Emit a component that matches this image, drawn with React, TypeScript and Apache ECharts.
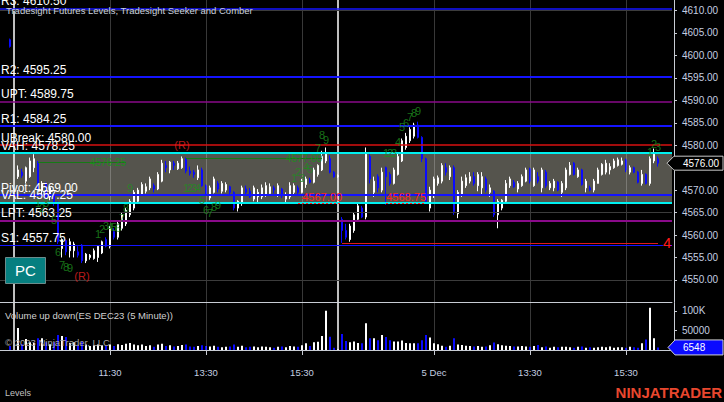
import React, { useEffect, useRef } from 'react';
import * as echarts from 'echarts';

const FONT = '"Liberation Sans", Arial, sans-serif';

// ---------- categories (5-minute bars) ----------
function hhmm(m: number): string {
  return `${String(Math.floor(m / 60)).padStart(2, '0')}:${String(m % 60).padStart(2, '0')}`;
}
function buildCategories(): string[] {
  const cats: string[] = [];
  for (const m of [965, 970, 975]) cats.push(`1 Dec ${hhmm(m)}`);
  for (let m = 570; m <= 975; m += 5) cats.push(`4 Dec ${hhmm(m)}`);
  for (let m = 575; m <= 985; m += 5) cats.push(`5 Dec ${hhmm(m)}`);
  return cats;
}
const categories = buildCategories();

// ---------- OHLC [open, close, low, high] ----------
const dec1LastBar = [[4603.5, 4602.0, 4601.75, 4603.75]];
const dec4Bars = [
  [4573, 4574.5, 4572.5, 4575.5], [4574, 4573.25, 4572.75, 4574.75], [4572, 4575, 4571.5, 4575.25],
  [4573, 4576.5, 4572.75, 4577.25], [4575, 4577, 4574, 4578], [4576.25, 4570, 4569.5, 4576.5],
  [4570, 4571.5, 4569, 4572], [4571.5, 4568.5, 4568, 4571.75], [4568.5, 4570.5, 4567.75, 4571],
  [4569, 4567, 4566.5, 4569.5], [4567, 4558.5, 4558, 4567.5], [4557, 4559, 4555, 4559.25],
  [4558.75, 4556.25, 4555.5, 4559], [4556.5, 4558.5, 4555, 4559.25], [4556.5, 4558, 4555, 4558.5],
  [4556.25, 4555.5, 4555, 4557.5], [4557.75, 4554.25, 4553.75, 4558], [4554.25, 4555.75, 4553.75, 4556],
  [4555, 4555.5, 4554.5, 4555.75], [4554.75, 4556.5, 4554.5, 4557], [4555, 4557.5, 4554, 4557.75],
  [4556, 4558.5, 4555.75, 4558.75], [4559, 4557.5, 4557.25, 4559.5], [4557.5, 4561.5, 4557, 4562],
  [4560.75, 4559.5, 4559, 4561.5], [4559.5, 4562.5, 4559, 4563], [4561.5, 4564.5, 4561, 4565],
  [4562.5, 4565.5, 4562, 4566], [4564.5, 4567.5, 4564, 4568], [4566, 4569.5, 4565.5, 4570],
  [4567.5, 4570, 4567.25, 4570.5], [4569, 4571.25, 4568.75, 4571.75], [4569.75, 4570.75, 4569.25, 4571.5],
  [4570.5, 4572.5, 4570, 4573], [4571, 4570.25, 4569.5, 4571.5], [4570.25, 4573.5, 4570, 4574],
  [4572, 4576, 4571.75, 4576.75], [4575.5, 4575, 4574, 4576.5], [4574.5, 4576.25, 4573.75, 4576.5],
  [4576, 4575.5, 4574.5, 4576.5], [4574.75, 4576, 4574.5, 4576.5], [4575, 4577, 4574.75, 4577.5],
  [4577, 4574.25, 4573.75, 4577.25], [4574.25, 4573.75, 4573.25, 4575.25], [4574, 4573.5, 4572.75, 4574.5],
  [4572.75, 4574.5, 4572.25, 4575.5], [4574.5, 4571, 4570.75, 4575], [4571, 4569, 4568.75, 4571.25],
  [4568.25, 4570.5, 4567.75, 4571], [4569.5, 4572.5, 4569.25, 4573], [4571.5, 4570.25, 4569.5, 4572],
  [4569.75, 4571.5, 4569.25, 4572], [4570, 4571.25, 4569.5, 4571.75], [4570.75, 4569.5, 4568.75, 4571],
  [4569.5, 4566, 4565.5, 4569.75], [4566, 4567.5, 4565.25, 4567.75], [4567, 4570.5, 4566.5, 4571],
  [4570.25, 4569.5, 4569, 4571], [4569.75, 4568.5, 4568.25, 4570.5], [4568, 4570.5, 4567.5, 4571],
  [4568.5, 4569.5, 4567, 4570.25], [4568.5, 4570.5, 4568, 4571.25], [4569, 4571, 4568.5, 4571.75],
  [4569.25, 4570.75, 4568.75, 4571.5], [4570.5, 4570, 4569.25, 4571], [4569, 4571, 4568.5, 4571.5],
  [4570.25, 4568.75, 4568.25, 4570.5], [4568, 4569, 4567, 4569.5], [4568.5, 4571, 4568, 4571.75],
  [4569.5, 4571, 4569, 4571.5], [4570.5, 4569.5, 4569, 4571], [4569.5, 4572, 4569.25, 4572.5],
  [4571.25, 4572.5, 4570.5, 4573], [4572.25, 4571.75, 4571.5, 4572.75], [4571.75, 4574.5, 4571.5, 4575],
  [4573.5, 4575.5, 4573, 4575.75], [4574.5, 4577.5, 4574.25, 4578.75], [4576.5, 4578, 4576, 4579.5],
  [4577, 4574, 4573.75, 4577.75], [4574, 4573, 4572.75, 4574.25], [4573, 4573.25, 4572.75, 4573.5],
];
const dec5Bars = [
  [4563.5, 4561, 4558.25, 4564], [4561, 4559.5, 4559, 4562.5], [4559, 4562, 4558.5, 4562.5],
  [4561, 4564.5, 4560.5, 4565], [4563.5, 4566.5, 4563, 4567], [4566, 4564, 4563.75, 4566.5],
  [4564, 4578, 4563.5, 4579.5], [4577.5, 4572.5, 4571.5, 4578], [4569.5, 4572, 4568.5, 4573],
  [4573, 4570.5, 4569.5, 4573.5], [4570, 4574, 4569.5, 4575], [4575, 4573, 4566.75, 4575.25],
  [4573.5, 4571.5, 4571, 4574], [4571.5, 4574.5, 4571.25, 4575], [4573.5, 4577.5, 4573.25, 4578.25],
  [4576.5, 4581, 4576.25, 4581.5], [4579.5, 4582, 4579, 4582.75], [4581, 4583.5, 4580.5, 4584],
  [4582, 4584.5, 4581.5, 4585], [4584.5, 4581.75, 4581.5, 4585.25], [4581.75, 4577, 4576.25, 4582],
  [4577, 4567.5, 4567, 4577.25], [4566, 4570, 4565.25, 4570.75], [4569, 4572.5, 4568.25, 4573],
  [4571.5, 4572.75, 4571, 4573.25], [4572, 4575.5, 4571.5, 4576], [4575, 4574, 4573.25, 4576],
  [4573, 4575, 4572.25, 4575.5], [4575, 4565.25, 4564.5, 4575.5], [4564.75, 4569.5, 4563.75, 4570],
  [4569, 4572, 4568.5, 4573], [4571, 4572.75, 4570.5, 4573.5], [4572, 4573, 4571.5, 4574],
  [4573, 4571.5, 4571, 4574], [4571, 4573.5, 4569.75, 4574], [4570.5, 4573, 4569, 4574],
  [4572.5, 4570, 4569.5, 4573], [4569.5, 4570.5, 4568.5, 4571.25], [4569.75, 4564.5, 4564, 4570],
  [4564.5, 4567.5, 4561.5, 4568], [4566, 4567.75, 4565.5, 4568], [4567.5, 4571.5, 4567.25, 4572.25],
  [4571, 4572.5, 4570.5, 4573], [4571.75, 4570.75, 4570.5, 4572.25], [4570.25, 4571.5, 4569.5, 4572],
  [4571, 4573, 4570.75, 4573.5], [4572, 4574.5, 4571.75, 4575], [4574.75, 4572, 4571.5, 4575],
  [4571, 4574.5, 4570.75, 4575], [4573, 4572, 4571.5, 4574], [4570.5, 4574.5, 4569.5, 4575],
  [4574, 4571, 4570.5, 4574.5], [4570.5, 4571.5, 4570, 4572], [4570.5, 4572, 4569.75, 4572.5],
  [4571.75, 4570, 4569.75, 4572], [4569.5, 4571.5, 4568.5, 4572], [4570.5, 4574.5, 4570, 4575],
  [4573.5, 4575.5, 4573.25, 4576.25], [4576, 4573.5, 4573.25, 4576.25], [4573, 4574.5, 4572.75, 4575],
  [4574.5, 4571.25, 4571, 4574.75], [4570.5, 4572, 4569.5, 4572.5], [4570.5, 4570, 4569.75, 4571],
  [4570, 4572, 4569.5, 4572.5], [4571.5, 4574.5, 4571.5, 4575], [4573.5, 4575.75, 4573.25, 4576],
  [4574, 4576, 4573.5, 4576.75], [4574.5, 4575.25, 4573.5, 4576], [4575, 4576.5, 4574.75, 4577],
  [4575.5, 4576.75, 4575.25, 4577.25], [4575.75, 4576.5, 4575.5, 4577.25], [4576.75, 4574.5, 4574, 4577],
  [4574, 4575, 4573.5, 4575.5], [4575, 4574, 4573.75, 4575.25], [4574, 4571.75, 4571.5, 4574.25],
  [4571.5, 4573.5, 4571, 4574.5], [4573.5, 4571.5, 4571.25, 4573.75], [4571.5, 4577, 4571, 4577.5],
  [4576.5, 4578, 4576, 4579.25], [4577, 4576, 4575.25, 4577.5],
];

// ---------- volume ----------
const dec1LastVolume = [10000];
const dec4Volume = [
  56000, 15000, 28000, 20000, 18000, 30000, 30000, 20000, 15000, 20000,
  38000, 36000, 33000, 18000, 20000, 12000, 22000, 14000, 10000, 12000,
  14000, 12000, 10000, 14000, 10000, 15000, 13000, 16000, 18000, 14000,
  12000, 14000, 10000, 12000, 8000, 14000, 16000, 10000, 12000, 9000,
  10000, 13000, 14000, 9000, 8000, 10000, 12000, 10000, 9000, 11000,
  8000, 7000, 8000, 9000, 14000, 8000, 11000, 7000, 8000, 9000,
  7000, 9000, 8000, 7000, 6000, 8000, 9000, 7000, 10000, 9000,
  8000, 12000, 17000, 10000, 20000, 21000, 36000, 100000, 34000, 6000,
  2000,
];
const dec5Volume = [
  41000, 23000, 20000, 22000, 18000, 17000, 68000, 30000, 30000, 25000,
  38000, 33000, 25000, 22000, 22000, 24000, 18000, 17000, 17000, 17000,
  25000, 38000, 32000, 17000, 15000, 11000, 8000, 11000, 30000, 14000,
  13000, 11000, 10000, 9000, 10000, 8000, 9000, 12000, 19000, 15000,
  12000, 11000, 10000, 9000, 9000, 10000, 9000, 8000, 10000, 13000,
  7000, 9000, 6000, 8000, 7000, 8000, 8000, 7000, 6000, 8000,
  9000, 6000, 7000, 6000, 7000, 8000, 7000, 9000, 6000, 7000,
  7000, 6000, 8000, 7000, 6000, 17000, 27000, 108000, 30000, 6548,
];

// ---------- levels ----------
const levelNames = ['R3', 'R2', 'UPT', 'R1', 'UBreak', 'VAH', 'Pivot', 'VAL', 'LPT', 'S1'];
const levelValues = [4610.5, 4595.25, 4589.75, 4584.25, 4580.0, 4578.25, 4569.0, 4567.25, 4563.25, 4557.75];
const levelColors = ['#1414ff', '#1414ff', '#8a0a8a', '#1414ff', '#d81010', '#00f0f0', '#1414ff', '#00f0f0', '#8a0a8a', '#1414ff'];
const levelWidths = [1.5, 2, 1.5, 2, 1.5, 2, 2, 2, 2, 1];
const priorLevels = [4610, 4565, 4550];

// comber lines
const comberValues = [4576.25, 4577.0];
const comberStarts = ['4 Dec 10:00', '4 Dec 13:05'];
const comberEnds = ['4 Dec 11:50', '4 Dec 15:55'];
const targetTexts = ['4567.00', '4568.75'];
const targetValues = [4567.0, 4567.0];
const targetStarts = ['4 Dec 15:25', '5 Dec 10:30'];
const targetEnds = ['5 Dec 09:35', '5 Dec 11:20'];
const stopValue = 4558.25;
const stopStart = '5 Dec 09:35';
const stopEnd = '5 Dec 16:10';
const stopText = '4';

// seeker counts
const seekerTimes = [
  '4 Dec 10:00', '4 Dec 10:05', '4 Dec 10:10', '4 Dec 10:20', '4 Dec 10:25', '4 Dec 10:30', '4 Dec 10:35', '4 Dec 10:40',
  '4 Dec 11:15', '4 Dec 11:20', '4 Dec 11:25', '4 Dec 11:30', '4 Dec 11:35', '4 Dec 11:40', '4 Dec 11:45', '4 Dec 11:50', '4 Dec 11:55',
  '4 Dec 13:05', '4 Dec 13:10', '4 Dec 13:15', '4 Dec 13:20', '4 Dec 13:25', '4 Dec 13:30', '4 Dec 13:35', '4 Dec 13:40', '4 Dec 13:45',
  '4 Dec 15:20', '4 Dec 15:25', '4 Dec 15:30', '4 Dec 15:35', '4 Dec 15:40', '4 Dec 15:50', '4 Dec 15:55', '4 Dec 16:00',
  '5 Dec 10:30', '5 Dec 10:35', '5 Dec 10:40', '5 Dec 10:45', '5 Dec 10:50', '5 Dec 10:55', '5 Dec 11:00', '5 Dec 11:05', '5 Dec 11:10',
  '5 Dec 16:00', '5 Dec 16:05', '5 Dec 16:10',
];
const seekerPrices = [
  4567.1, 4566.0, 4567.1, 4563.3, 4556.2, 4553.3, 4552.9, 4552.65,
  4560.2, 4561.3, 4562.0, 4561.8, 4561.8, 4561.55, 4563.8, 4566.0, 4570.5,
  4570.5, 4570.5, 4570.5, 4570.5, 4567.8, 4565.6, 4564.9, 4566.2, 4566.7,
  4572.7, 4574.0, 4572.7, 4575.1, 4574.7, 4579.4, 4582.3, 4581.2,
  4578.3, 4578.3, 4578.3, 4580.7, 4584.05, 4584.9, 4586.3, 4587.2, 4587.6,
  4578.5, 4580.3, 4579.6,
];
const seekerTexts = [
  '1', '2', '3', '5', '6', '7', '8', '9',
  '1', '2', '3', '4', '5', '6', '7', '8', '9',
  '1', '2', '3', '4', '5', '6', '7', '8', '9',
  '1', '2', '3', '4', '5', '7', '8', '9',
  '1', '2', '3', '4', '5', '6', '7', '8', '9',
  '1', '2', '3',
];
const reversalTimes = ['4 Dec 13:00', '4 Dec 10:55'];
const reversalPrices = [4580.05, 4550.9];
const reversalText = '(R)';

// axes
const xTickCategories = ['4 Dec 11:30', '4 Dec 13:30', '4 Dec 15:30', '5 Dec 11:30', '5 Dec 13:30', '5 Dec 15:30'];
const xTickLabels = ['11:30', '13:30', '15:30', '5 Dec', '13:30', '15:30'];
const sessionBreaks = ['4 Dec 09:30', '4 Dec 16:15'];
const volumeTickValues = [50000, 100000];
const volumeTickLabels = ['50000', '100K'];

export default function App() {
  const ref = useRef<HTMLDivElement>(null);
  useEffect(() => {
    const el = ref.current!;
    const chart = echarts.init(el, null, { renderer: 'svg' });
    const EMPTY = ['-', '-', '-', '-'];
    const bars = [EMPTY, EMPTY, ...dec1LastBar, EMPTY, ...dec4Bars, ...dec5Bars];
    while (bars.length < categories.length) bars.push(EMPTY);
    const vols: any[] = ['-', '-', ...dec1LastVolume, '-', ...dec4Volume, ...dec5Volume];
    while (vols.length < categories.length) vols.push('-');
    const volData = vols.map((v, i) => {
      if (v === '-') return '-';
      const b = bars[i] as number[];
      const down = b[1] < b[0];
      return { value: v, itemStyle: { color: down ? '#0a0aff' : '#ffffff' } };
    });
    const lastClose = dec5Bars[dec5Bars.length - 1][1];
    const lastVolume = dec5Volume[dec5Volume.length - 1];

    const isTick = (_i: number, v: string) => xTickCategories.indexOf(v) >= 0;
    const axisColor = '#c8ccd4';
    const labelColor = '#c4cee0';
    const gridLineColor = 'rgba(255,255,255,0.22)';

    const verticalLines = [
      ...xTickCategories.map((t) => ({ xAxis: t, lineStyle: { color: gridLineColor, width: 1, type: 'solid' } })),
      ...sessionBreaks.map((t) => ({ xAxis: t, lineStyle: { color: '#ffffff', width: 1.5, type: 'solid' } })),
    ];

    const option: any = {
      animation: false,
      backgroundColor: '#000000',
      textStyle: { fontFamily: FONT },
      grid: [
        { left: 0, right: 52, top: 0, height: 302.35 },
        { left: 0, right: 52, top: 303, height: 47 },
      ],
      xAxis: [
        {
          type: 'category', data: categories, gridIndex: 0, boundaryGap: true,
          axisLine: { show: true, lineStyle: { color: axisColor, width: 1 } },
          axisTick: { show: false }, axisLabel: { show: false }, splitLine: { show: false },
        },
        {
          type: 'category', data: categories, gridIndex: 1, boundaryGap: true, offset: 6,
          axisLine: { show: true, lineStyle: { color: axisColor, width: 1 } },
          axisTick: { show: true, alignWithLabel: true, interval: isTick, length: 5, lineStyle: { color: axisColor } },
          axisLabel: {
            show: true, interval: isTick, margin: 11, color: labelColor, fontSize: 9.5, fontFamily: FONT,
            formatter: (v: string) => { const i = xTickCategories.indexOf(v); return i >= 0 ? xTickLabels[i] : ''; },
          },
          splitLine: { show: false },
        },
      ],
      yAxis: [
        {
          type: 'value', gridIndex: 0, position: 'right', offset: 2, min: 4545, max: 4612.35, interval: 5,
          axisLine: { show: true, lineStyle: { color: axisColor, width: 1 } },
          axisTick: { show: true, length: 3, lineStyle: { color: axisColor } },
          axisLabel: {
            show: true, margin: 8, color: labelColor, fontSize: 10, fontFamily: FONT, showMinLabel: false, showMaxLabel: false,
            formatter: (v: number) => (Math.abs(v - lastClose) < 2.5 ? '' : v.toFixed(2)),
          },
          splitLine: { show: false },
        },
        {
          type: 'value', gridIndex: 1, position: 'right', offset: 2, min: 0, max: 120000, interval: 50000,
          axisLine: { show: true, lineStyle: { color: axisColor, width: 1 } },
          axisTick: { show: true, length: 3, lineStyle: { color: axisColor } },
          axisLabel: {
            show: true, margin: 8, color: labelColor, fontSize: 10, fontFamily: FONT, showMinLabel: false, showMaxLabel: false,
            formatter: (v: number) => { const i = volumeTickValues.indexOf(v); return i >= 0 ? volumeTickLabels[i] : ''; },
          },
          splitLine: { show: false },
        },
      ],
      series: [
        {
          name: 'valueArea', type: 'line', data: [], xAxisIndex: 0, yAxisIndex: 0, z: 1, silent: true,
          markArea: { silent: true, itemStyle: { color: '#55544d' }, data: [[{ yAxis: levelValues[7] }, { yAxis: levelValues[5] }]] },
        },
        {
          name: 'gridLines', type: 'line', data: [], xAxisIndex: 0, yAxisIndex: 0, z: 2, silent: true,
          markLine: {
            silent: true, symbol: ['none', 'none'], label: { show: false },
            data: [
              ...verticalLines,
              ...priorLevels.map((v) => ({ yAxis: v, lineStyle: { color: '#3c3c3c', width: 1, type: 'solid' } })),
            ],
          },
        },
        {
          name: 'levels', type: 'line', data: [], xAxisIndex: 0, yAxisIndex: 0, z: 2, silent: true,
          markLine: {
            silent: true, symbol: ['none', 'none'],
            label: { show: true, position: 'insideStartTop', distance: [1, 1], color: '#ffffff', fontSize: 12, fontFamily: FONT },
            data: levelValues.map((v, i) => ({
              yAxis: v,
              lineStyle: { color: levelColors[i], width: levelWidths[i], type: 'solid' },
              label: { formatter: `${levelNames[i]}: ${v.toFixed(2)}` },
            })),
          },
        },
        {
          name: 'ES DEC23', type: 'candlestick', data: bars, xAxisIndex: 0, yAxisIndex: 0, z: 3, barWidth: 2, silent: true,
          itemStyle: { color: '#ffffff', color0: '#0a0aff', borderColor: '#ffffff', borderColor0: '#0a0aff', borderWidth: 1 },
        },
        {
          name: 'signals', type: 'line', data: [], xAxisIndex: 0, yAxisIndex: 0, z: 4, silent: true,
          markLine: {
            silent: true, symbol: ['none', 'none'],
            data: [
              ...comberValues.map((v, i) => [
                { coord: [comberStarts[i], v], lineStyle: { color: '#157a15', width: 1, type: 'solid' },
                  label: { show: true, position: 'insideEnd', distance: [0, 0], formatter: v.toFixed(2), color: '#1f8a1f', fontSize: 10, fontFamily: FONT } },
                { coord: [comberEnds[i], v] },
              ]),
              ...targetValues.map((v, i) => [
                { coord: [targetStarts[i], v], lineStyle: { color: '#ff2020', width: 1, type: [2, 2] },
                  label: { show: true, position: 'insideEndTop', distance: [0, 1], formatter: targetTexts[i], color: '#ff2424', fontSize: 11, fontFamily: FONT } },
                { coord: [targetEnds[i], v] },
              ]),
              [
                { coord: [stopStart, stopValue], lineStyle: { color: '#e01818', width: 1, type: 'solid' },
                  label: { show: true, position: 'end', distance: 5, formatter: stopText, color: '#ff1a1a', fontSize: 15, fontFamily: FONT } },
                { coord: [stopEnd, stopValue] },
              ],
            ],
          },
        },
        {
          name: 'seeker', type: 'scatter', xAxisIndex: 0, yAxisIndex: 0, z: 5, silent: true,
          data: seekerTimes.map((t, i) => [t, seekerPrices[i]]),
          symbol: 'circle', symbolSize: 1, itemStyle: { color: 'rgba(0,0,0,0)' },
          label: { show: true, position: 'inside', color: '#1f8c1f', fontSize: 11, fontFamily: FONT, formatter: (p: any) => seekerTexts[p.dataIndex] },
        },
        {
          name: 'reversal', type: 'scatter', xAxisIndex: 0, yAxisIndex: 0, z: 5, silent: true,
          data: reversalTimes.map((t, i) => [t, reversalPrices[i]]),
          symbol: 'circle', symbolSize: 1, itemStyle: { color: 'rgba(0,0,0,0)' },
          label: { show: true, position: 'inside', color: '#e82020', fontSize: 11, fontFamily: FONT, formatter: reversalText },
        },
        {
          name: 'volGrid', type: 'line', data: [], xAxisIndex: 1, yAxisIndex: 1, z: 1, silent: true,
          markLine: { silent: true, symbol: ['none', 'none'], label: { show: false }, data: verticalLines },
        },
        {
          name: 'Volume', type: 'bar', data: volData, xAxisIndex: 1, yAxisIndex: 1, z: 3, barWidth: 2, silent: true,
        },
      ],
    };
    chart.setOption(option);

    const yP = chart.convertToPixel({ yAxisIndex: 0 } as any, lastClose) as unknown as number;
    const yV = chart.convertToPixel({ yAxisIndex: 1 } as any, lastVolume) as unknown as number;
    const ax = 674;
    const txt = (id: string, x: number, y: number, text: string, size: number, fill: string, extra: any = {}) => ({
      type: 'text', id, x, y, z: 100,
      style: { text, fill, font: `${extra.weight || 'normal'} ${size}px ${FONT}`, textAlign: extra.align || 'left', textVerticalAlign: 'middle' },
    });
    chart.setOption({
      graphic: [
        txt('title', 6, 10, 'Tradesight Futures Levels, Tradesight Seeker and Comber', 9.5, '#c9d0de'),
        txt('volTitle', 5, 315, 'Volume up down(ES DEC23 (5 Minute))', 9.5, '#d0d0d0'),
        txt('copy', 5, 342, '© 2023 NinjaTrader, LLC', 9.5, '#a8a8a8'),
        txt('levelsTab', 5, 393, 'Levels', 9, '#c0c0c0'),
        txt('logo', 722, 392, 'NINJATRADER', 15, '#e8472e', { weight: 'bold', align: 'right' }),
        {
          type: 'rect', id: 'pcBox', z: 100, shape: { x: 5.5, y: 257.5, width: 40, height: 26 },
          style: { fill: '#067f80', stroke: '#6c8c8c', lineWidth: 1 },
        },
        txt('pcText', 25.5, 270.5, 'PC', 15, '#ffffff', { align: 'center' }),
        {
          type: 'polygon', id: 'priceMarker', z: 100,
          shape: { points: [[ax - 7, yP], [ax, yP - 7], [723, yP - 7], [723, yP + 7], [ax, yP + 7]] },
          style: { fill: '#000000', stroke: '#c8c8c8', lineWidth: 1 },
        },
        txt('priceMarkerText', 683, yP, lastClose.toFixed(2), 10, '#ffffff'),
        {
          type: 'polygon', id: 'volMarker', z: 100,
          shape: { points: [[ax - 6, yV], [ax + 1, yV - 7.5], [723, yV - 7.5], [723, yV + 7.5], [ax + 1, yV + 7.5]] },
          style: { fill: '#0a0aff', stroke: '#d0d0d0', lineWidth: 1 },
        },
        txt('volMarkerText', 683, yV, String(lastVolume), 10, '#ffffff'),
      ],
    });
    return () => chart.dispose();
  }, []);
  return <div ref={ref} style={{ position: 'fixed', left: 0, top: 0, width: 724, height: 402, background: '#000' }} />;
}
